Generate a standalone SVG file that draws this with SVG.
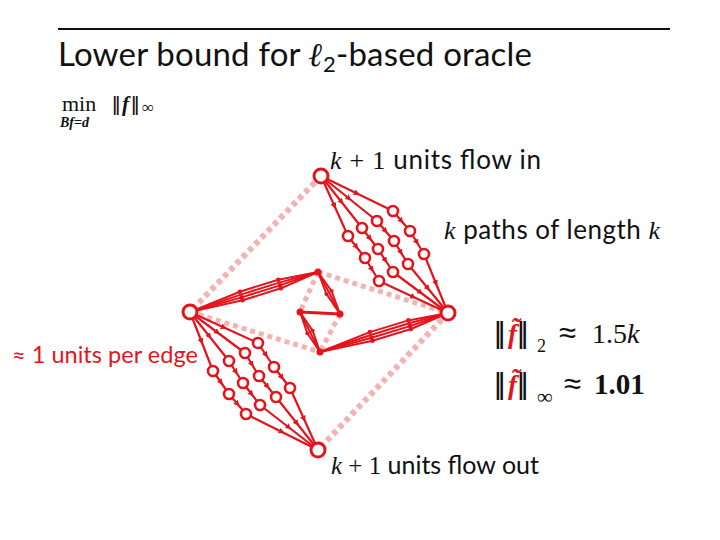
<svg xmlns="http://www.w3.org/2000/svg" width="720" height="540" viewBox="0 0 720 540">
<style>
.txt{font-family:Lato,"Open Sans","Liberation Sans",sans-serif;fill:#111}
.math{font-family:"Liberation Serif","DejaVu Serif",serif;fill:#111}
.bar{font-family:"Liberation Sans","DejaVu Sans",sans-serif;fill:#111}
.it{font-style:italic}
.bi{font-style:italic;font-weight:bold}
.red{fill:#e3141c}
.pink{fill:none;stroke:#f4b3b3;stroke-dasharray:5 4}
.lane{fill:none;stroke:#e3141c;stroke-width:2.2;stroke-linejoin:round;marker-mid:url(#arr)}
.bund{fill:none;stroke:#e3141c;stroke-width:2;stroke-linejoin:round}
.node{fill:#fff;stroke:#e3141c;stroke-width:2.6}
.big{fill:#fff;stroke:#e3141c;stroke-width:3}
.knot{fill:#e3141c}
.sdot{fill:#e3141c}
</style>
<defs>
<marker id="arr" viewBox="0 0 6 6" refX="3" refY="3" markerWidth="6" markerHeight="6" markerUnits="userSpaceOnUse" orient="auto"><path d="M0,0 L6,3 L0,6 z" fill="#e3141c"/></marker>
</defs>
<rect width="720" height="540" fill="#fff"/>
<line x1="58" y1="29" x2="670" y2="29" stroke="#111" stroke-width="2"/>
<text class="txt" x="58" y="66" font-size="33" textLength="474">Lower bound for <tspan class="math bi">ℓ</tspan><tspan dy="6" font-size="22">2</tspan><tspan dy="-6">-based oracle</tspan></text>
<g id="formula-min">
<text class="math" x="62" y="111" font-size="22">min</text>
<text class="math bi" x="60" y="127" font-size="14">Bf=d</text>
<text class="bar" x="112" y="111" font-size="21" letter-spacing="-2.5">||</text>
<text class="math bi" x="122" y="111" font-size="21">f</text>
<text class="bar" x="131" y="111" font-size="21" letter-spacing="-2.5">||</text>
<text class="math" x="142" y="113" font-size="17">∞</text>
</g>
<g id="pink-edges">
<line class="pink" x1="321" y1="176" x2="190" y2="312" stroke-width="6"/>
<line class="pink" x1="448" y1="313" x2="318" y2="450" stroke-width="6"/>
<line class="pink" x1="190" y1="312" x2="320" y2="352" stroke-width="5"/>
<line class="pink" x1="318" y1="272" x2="448" y2="313" stroke-width="5"/>
<line class="pink" x1="318" y1="272" x2="300" y2="312" stroke-width="5"/>
<line class="pink" x1="340" y1="314" x2="320" y2="352" stroke-width="5"/>
</g>
<g id="connectors">
<polyline class="lane" points="321,176 357,193.5 393,211 401.5,221 410,231 417,242.5 424,254 436,283.5 448,313"/>
<polyline class="lane" points="321,176 349,198.5 377,221 385.5,231 394,241 401,252.5 408,264 428,288.5 448,313"/>
<polyline class="lane" points="321,176 341.5,202 362,228 370,238.5 378,249 385.5,260.5 393,272 420.5,292.5 448,313"/>
<polyline class="lane" points="321,176 334.5,206 348,236 356.5,247 365,258 372,269.5 379,281 413.5,297 448,313"/>
<polyline class="lane" points="190,312 224,327.5 258,343 266,355 274,367 282,377.5 290,388 304,419 318,450"/>
<polyline class="lane" points="190,312 217.5,332.5 245,353 252,364.5 259,376 267.5,386.5 276,397 297,423.5 318,450"/>
<polyline class="lane" points="190,312 209.5,336.5 229,361 236,372 243,383 251.5,394 260,405 289,427.5 318,450"/>
<polyline class="lane" points="190,312 201.5,341.5 213,371 221,382.5 229,394 237.5,404 246,414 282,432 318,450"/>
<polyline class="bund" points="190,312 239.9,291.7 278.3,279.7 318,272"/>
<polyline class="bund" points="190,312 240.8,294.6 279.2,282.6 318,272"/>
<polyline class="bund" points="190,312 241.6,297.4 280,285.4 318,272"/>
<polyline class="bund" points="190,312 242.5,300.3 280.9,288.3 318,272"/>
<polyline class="bund" points="318,272 331.6,291.1 340,314"/>
<polyline class="bund" points="318,272 329,292.5 340,314"/>
<polyline class="bund" points="318,272 326.4,293.9 340,314"/>
<line x1="340" y1="314" x2="300" y2="312" stroke="#e3141c" stroke-width="3"/>
<polyline class="bund" points="300,312 312.7,330.7 320,352"/>
<polyline class="bund" points="300,312 310,332 320,352"/>
<polyline class="bund" points="300,312 307.3,333.3 320,352"/>
<polyline class="bund" points="320,352 369.9,332.1 408.3,320.4 448,313"/>
<polyline class="bund" points="320,352 370.8,335 409.2,323.3 448,313"/>
<polyline class="bund" points="320,352 371.6,337.8 410,326.1 448,313"/>
<polyline class="bund" points="320,352 372.5,340.7 410.9,329 448,313"/>
<g class="sdot">
<circle cx="239.9" cy="291.7" r="2.3"/><circle cx="241.6" cy="297.4" r="2.3"/><circle cx="242.5" cy="300.3" r="2.3"/>
<circle cx="278.3" cy="279.7" r="2.3"/><circle cx="280" cy="285.4" r="2.3"/><circle cx="280.9" cy="288.3" r="2.3"/>
<circle cx="331.6" cy="291.1" r="2"/><circle cx="326.4" cy="293.9" r="2"/>
<circle cx="312.7" cy="330.7" r="2"/><circle cx="307.3" cy="333.3" r="2"/>
<circle cx="369.9" cy="332.1" r="2.3"/><circle cx="371.6" cy="337.8" r="2.3"/><circle cx="372.5" cy="340.7" r="2.3"/>
<circle cx="408.3" cy="320.4" r="2.3"/><circle cx="410" cy="326.1" r="2.3"/><circle cx="410.9" cy="329" r="2.3"/>
</g>
</g>
<g id="node-T"><circle class="big" cx="321" cy="176" r="7"/></g>
<g id="node-R"><circle class="big" cx="448" cy="313" r="7"/></g>
<g id="node-L"><circle class="big" cx="190" cy="312" r="7"/></g>
<g id="node-B"><circle class="big" cx="318" cy="450" r="7"/></g>
<g id="node-M1"><circle class="knot" cx="318" cy="272" r="3.5"/></g>
<g id="node-M2"><circle class="knot" cx="300" cy="312" r="3.5"/></g>
<g id="node-M3"><circle class="knot" cx="340" cy="314" r="3.5"/></g>
<g id="node-M4"><circle class="knot" cx="320" cy="352" r="3.5"/></g>
<g id="top-nodes">
<g id="t11"><circle class="node" cx="393" cy="211" r="5"/></g>
<g id="t12"><circle class="node" cx="410" cy="231" r="5"/></g>
<g id="t13"><circle class="node" cx="424" cy="254" r="5"/></g>
<g id="t21"><circle class="node" cx="377" cy="221" r="5"/></g>
<g id="t22"><circle class="node" cx="394" cy="241" r="5"/></g>
<g id="t23"><circle class="node" cx="408" cy="264" r="5"/></g>
<g id="t31"><circle class="node" cx="362" cy="228" r="5"/></g>
<g id="t32"><circle class="node" cx="378" cy="249" r="5"/></g>
<g id="t33"><circle class="node" cx="393" cy="272" r="5"/></g>
<g id="t41"><circle class="node" cx="348" cy="236" r="5"/></g>
<g id="t42"><circle class="node" cx="365" cy="258" r="5"/></g>
<g id="t43"><circle class="node" cx="379" cy="281" r="5"/></g>
</g>
<g id="bottom-nodes">
<g id="b11"><circle class="node" cx="258" cy="343" r="5"/></g>
<g id="b12"><circle class="node" cx="274" cy="367" r="5"/></g>
<g id="b13"><circle class="node" cx="290" cy="388" r="5"/></g>
<g id="b21"><circle class="node" cx="245" cy="353" r="5"/></g>
<g id="b22"><circle class="node" cx="259" cy="376" r="5"/></g>
<g id="b23"><circle class="node" cx="276" cy="397" r="5"/></g>
<g id="b31"><circle class="node" cx="229" cy="361" r="5"/></g>
<g id="b32"><circle class="node" cx="243" cy="383" r="5"/></g>
<g id="b33"><circle class="node" cx="260" cy="405" r="5"/></g>
<g id="b41"><circle class="node" cx="213" cy="371" r="5"/></g>
<g id="b42"><circle class="node" cx="229" cy="394" r="5"/></g>
<g id="b43"><circle class="node" cx="246" cy="414" r="5"/></g>
</g>
<g id="labels">
<text class="txt" x="330" y="169" font-size="26" textLength="211"><tspan class="math it">k</tspan><tspan class="math"> + 1 </tspan>units flow in</text>
<text class="txt" x="444" y="239" font-size="26" textLength="216"><tspan class="math it">k</tspan> paths of length <tspan class="math it">k</tspan></text>
<text class="txt red" x="12" y="363" font-size="23.5" textLength="186">≈ 1 units per edge</text>
<text class="txt" x="331" y="474" font-size="25" textLength="208"><tspan class="math it">k</tspan><tspan class="math"> + 1 </tspan>units flow out</text>
<g id="norm2">
<text class="bar" x="494" y="343" font-size="30" letter-spacing="-4">||</text>
<text class="math bi red" x="508" y="343" font-size="27">f̃</text>
<text class="bar" x="517" y="343" font-size="30" letter-spacing="-4">||</text>
<text class="math" x="537" y="352" font-size="18">2</text>
<text class="bar" x="559" y="343" font-size="31">≈</text>
<text class="math" x="592" y="343" font-size="28">1.5<tspan class="it">k</tspan></text>
</g>
<g id="norminf">
<text class="bar" x="494" y="394" font-size="30" letter-spacing="-4">||</text>
<text class="math bi red" x="508" y="394" font-size="27">f̃</text>
<text class="bar" x="517" y="394" font-size="30" letter-spacing="-4">||</text>
<text class="math" x="537" y="404" font-size="22">∞</text>
<text class="bar" x="564" y="394" font-size="31">≈</text>
<text class="math" x="594" y="394" font-size="29" font-weight="bold">1.01</text>
</g>
</g>
</svg>
